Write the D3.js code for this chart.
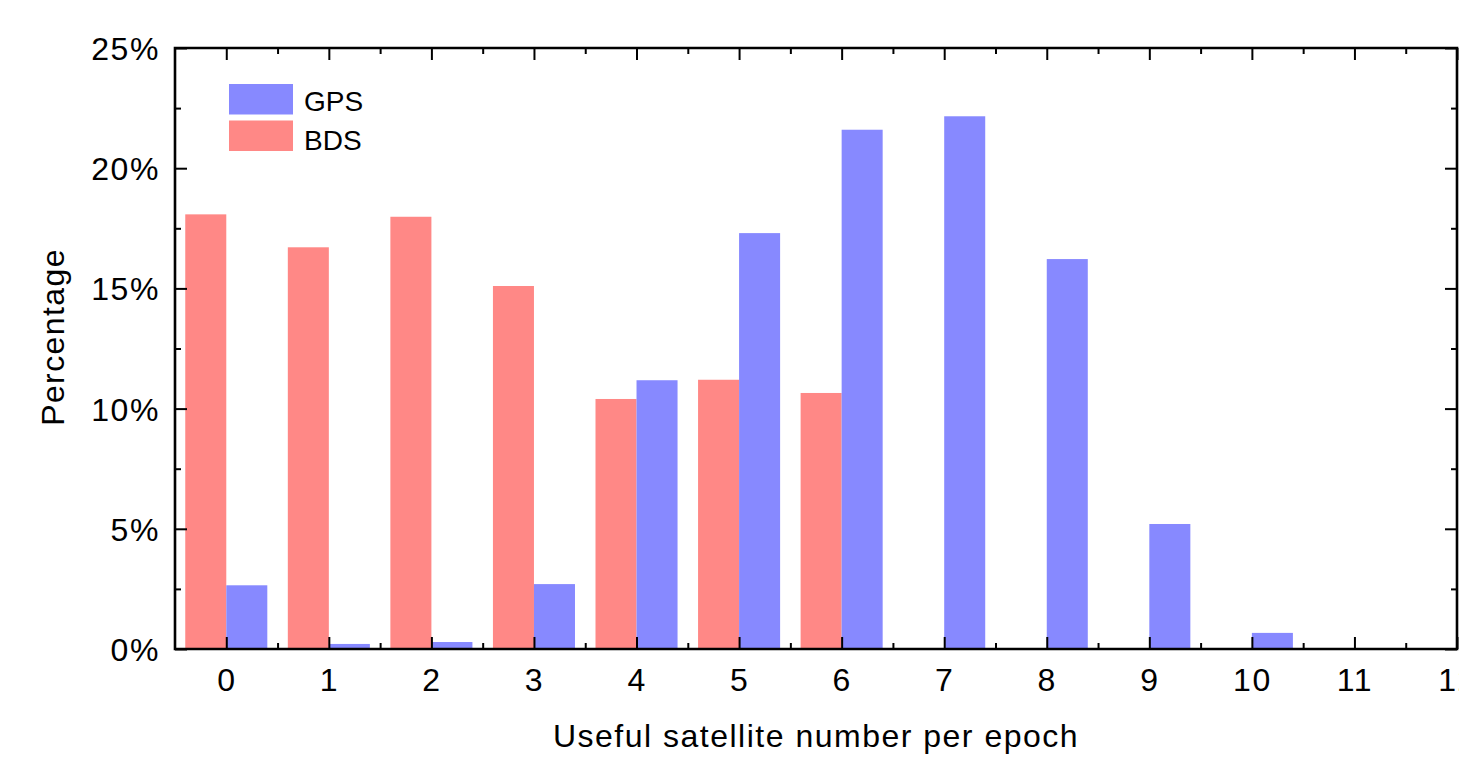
<!DOCTYPE html>
<html>
<head>
<meta charset="utf-8">
<script src="https://cdn.jsdelivr.net/npm/d3@7"></script>
<style>
html,body{margin:0;padding:0;background:#fff;overflow:hidden;}
text{font-family:"Liberation Sans",Arial,Helvetica,sans-serif;fill:#000;}
</style>
</head>
<body>
<svg id="chart" width="1459" height="758"></svg>
<script>
const categories = [0,1,2,3,4,5,6,7,8,9,10,11,12];
const gpsValues = [2.65,0.21,0.29,2.70,11.18,17.30,21.60,22.16,16.22,5.20,0.67,0,0];
const bdsValues = [18.08,16.71,17.98,15.10,10.40,11.20,10.65,0,0,0,0,0,0];
const yTicks = [0,5,10,15,20,25];
const seriesNames = ["GPS","BDS"];
const seriesColors = ["#8789ff","#ff8886"];

const svg = d3.select("#chart");
const L=175, R=1457, T=48, B=649;
const x = d3.scaleLinear().domain([-0.5,12]).range([L,R]);
const y = d3.scaleLinear().domain([0,25]).range([B,T]);
const bw = 0.4;

// bars
const g = svg.append("g");
g.selectAll("rect.bds").data(categories.map((c,i)=>({c,v:bdsValues[i]})).filter(d=>d.v>0))
  .enter().append("rect")
  .attr("x",d=>x(d.c-bw)).attr("width",d=>x(d.c)-x(d.c-bw))
  .attr("y",d=>y(d.v)).attr("height",d=>y(0)-y(d.v))
  .attr("fill",seriesColors[1]);
g.selectAll("rect.gps").data(categories.map((c,i)=>({c,v:gpsValues[i]})).filter(d=>d.v>0))
  .enter().append("rect")
  .attr("x",d=>x(d.c)).attr("width",d=>x(d.c+bw)-x(d.c))
  .attr("y",d=>y(d.v)).attr("height",d=>y(0)-y(d.v))
  .attr("fill",seriesColors[0]);

// axes
const majorLen=12, minorLen=6;
const xMinor = d3.range(-0.5,12.01,0.5).filter(v=>!Number.isInteger(v) && v>-0.5);
const yMinor = d3.range(2.5,25,5);
function styleAxis(sel){
  sel.select(".domain").remove();
  sel.selectAll(".tick line").attr("stroke","#000").attr("stroke-width",2);
}
// bottom
const xb = svg.append("g").attr("transform",`translate(0,${B})`)
  .call(d3.axisBottom(x).tickValues(categories).tickSize(-majorLen).tickPadding(0).tickFormat(d3.format("d")));
styleAxis(xb);
xb.selectAll(".tick text").attr("y",42).attr("dy",0).style("font-size","32px").style("letter-spacing","1.5px");
svg.append("g").attr("transform",`translate(0,${B})`)
  .call(d3.axisBottom(x).tickValues(xMinor).tickSize(-minorLen).tickFormat(""))
  .call(styleAxis);
// top
svg.append("g").attr("transform",`translate(0,${T})`)
  .call(d3.axisTop(x).tickValues(categories).tickSize(-majorLen).tickFormat("")).call(styleAxis);
svg.append("g").attr("transform",`translate(0,${T})`)
  .call(d3.axisTop(x).tickValues(xMinor).tickSize(-minorLen).tickFormat("")).call(styleAxis);
// left
const yl = svg.append("g").attr("transform",`translate(${L},0)`)
  .call(d3.axisLeft(y).tickValues(yTicks).tickSize(-majorLen).tickPadding(16).tickFormat(d=>d+"%"));
styleAxis(yl);
yl.selectAll(".tick text").attr("x",-15).attr("dy","0.36em").style("font-size","32px").style("letter-spacing","1.6px");
svg.append("g").attr("transform",`translate(${L},0)`)
  .call(d3.axisLeft(y).tickValues(yMinor).tickSize(-minorLen).tickFormat("")).call(styleAxis);
// right
svg.append("g").attr("transform",`translate(${R},0)`)
  .call(d3.axisRight(y).tickValues(yTicks).tickSize(-majorLen).tickFormat("")).call(styleAxis);
svg.append("g").attr("transform",`translate(${R},0)`)
  .call(d3.axisRight(y).tickValues(yMinor).tickSize(-minorLen).tickFormat("")).call(styleAxis);

// frame
svg.append("path")
  .attr("d",`M${L},${T}H${R}V${B}H${L}Z`)
  .attr("fill","none").attr("stroke","#000").attr("stroke-width",2.6).attr("stroke-linecap","square");

// axis titles
svg.append("text").attr("x",816).attr("y",747).attr("text-anchor","middle")
  .style("font-size","32px").style("letter-spacing","1.5px").text("Useful satellite number per epoch");
svg.append("text").attr("transform",`translate(64,337) rotate(-90)`).attr("text-anchor","middle")
  .style("font-size","32px").style("letter-spacing","1.4px").text("Percentage");

// legend
const leg = svg.append("g");
seriesNames.forEach((n,i)=>{
  leg.append("rect").attr("x",229).attr("y",84+i*36.5).attr("width",64).attr("height",30.5).attr("fill",seriesColors[i]);
  leg.append("text").attr("x",304).attr("y",111+i*39).style("font-size","28px").text(n);
});
</script>
</body>
</html>
